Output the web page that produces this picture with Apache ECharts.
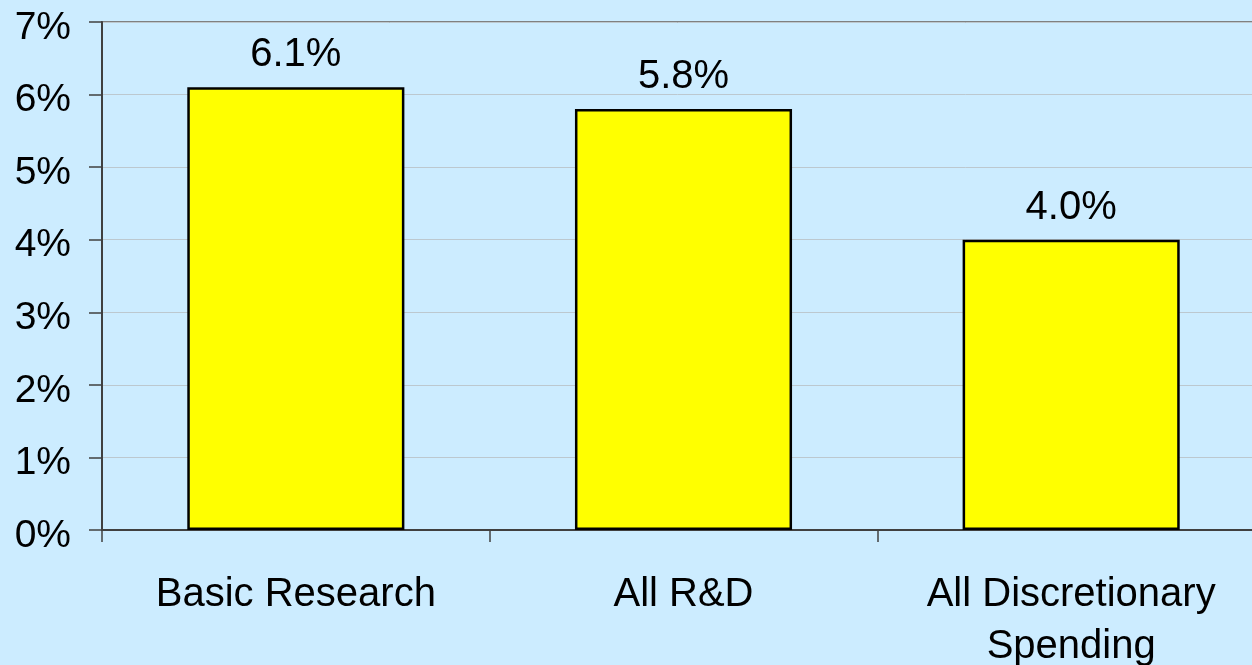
<!DOCTYPE html>
<html>
<head>
<meta charset="utf-8">
<style>
  html, body { margin: 0; padding: 0; background: #CCECFF; }
  #chart { width: 1252px; height: 665px; }
</style>
<script src="https://cdn.jsdelivr.net/npm/echarts@6/dist/echarts.min.js"></script>
</head>
<body>
<div id="chart"></div>
<script>
// Average annual growth rates by spending category
const categories = ['Basic Research', 'All R&D', 'All Discretionary\nSpending'];
const growthRates = [6.1, 5.8, 4.0];
const yTicks = { min: 0, max: 7, interval: 1 };

const FONT = '"Liberation Sans", Arial, sans-serif';

const chart = echarts.init(document.getElementById('chart'));
chart.setOption({
  backgroundColor: '#CCECFF',
  animation: false,
  grid: {
    left: 102, right: -13, top: 22, bottom: 135,
    outerBoundsMode: 'none',
    containLabel: false,
    show: true, borderColor: '#808080', borderWidth: 2,
    backgroundColor: 'transparent'
  },
  xAxis: {
    type: 'category',
    data: categories,
    axisLine: { lineStyle: { color: '#404040', width: 2 } },
    axisTick: { show: true, length: 12, alignWithLabel: false, lineStyle: { color: '#404040', width: 1.5 } },
    axisLabel: {
      color: '#000', fontFamily: FONT, fontSize: 40, lineHeight: 52,
      margin: 39, interval: 0
    }
  },
  yAxis: {
    type: 'value',
    min: yTicks.min, max: yTicks.max, interval: yTicks.interval,
    axisLine: { show: true, lineStyle: { color: '#404040', width: 2 } },
    axisTick: { show: true, length: 13, lineStyle: { color: '#404040', width: 1.5 } },
    splitLine: { show: true, lineStyle: { color: '#BCC8CF', width: 1 } },
    axisLabel: {
      color: '#000', fontFamily: FONT, fontSize: 39,
      margin: 31,
      formatter: v => '{t|' + v + '%}',
      rich: { t: { fontFamily: FONT, fontSize: 39, color: '#000', padding: [12, 0, 0, 0] } }
    }
  },
  series: [{
    type: 'bar',
    data: growthRates,
    barWidth: '56%',
    itemStyle: { color: '#FFFF00', borderColor: '#000', borderWidth: 2.5 },
    label: {
      show: true, position: 'top', distance: 12,
      color: '#000', fontFamily: FONT, fontSize: 40,
      formatter: p => p.value.toFixed(1) + '%'
    }
  }]
});
</script>
</body>
</html>
